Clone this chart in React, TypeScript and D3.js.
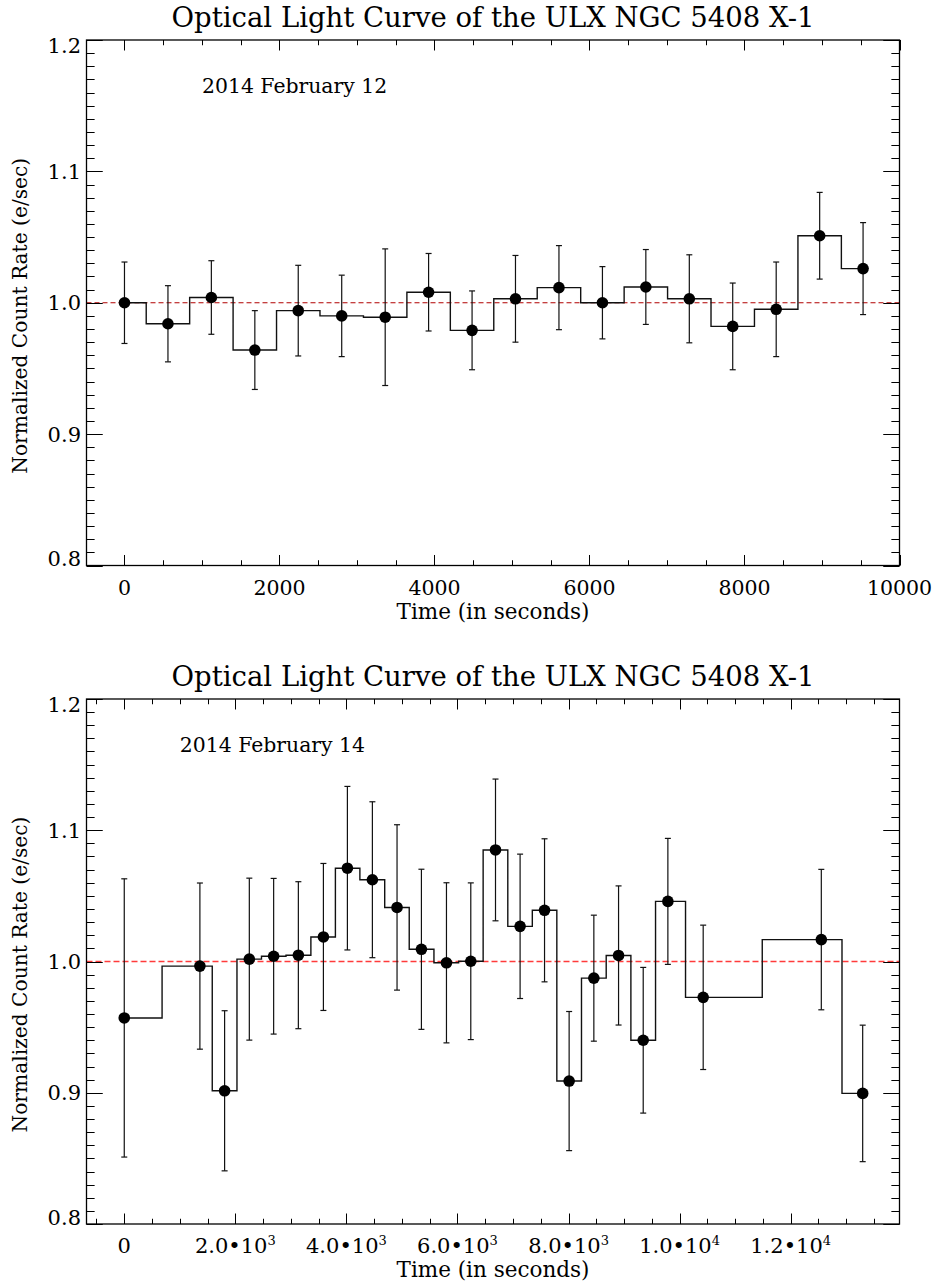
import React from "react";
import * as d3 from "d3";

// ---------- data ----------
const TITLE = "Optical Light Curve of the ULX NGC 5408 X-1";
const X_TITLE = "Time (in seconds)";
const Y_TITLE = "Normalized Count Rate (e/sec)";

const topDate = "2014 February 12";
const topTimes = [0, 561, 1121, 1682, 2242, 2803, 3364, 3924, 4485, 5045, 5606, 6167, 6727, 7288, 7848, 8409, 8970, 9530];
const topRates = [1.0, 0.984, 1.004, 0.964, 0.994, 0.99, 0.989, 1.008, 0.979, 1.003, 1.0115, 1.0, 1.012, 1.003, 0.982, 0.995, 1.051, 1.026];
const topErrors = [0.031, 0.029, 0.028, 0.03, 0.0345, 0.031, 0.052, 0.0295, 0.03, 0.033, 0.032, 0.0275, 0.0285, 0.0335, 0.033, 0.036, 0.033, 0.035];
const topXDomain = [-490, 10000];
const topXMajor = [0, 2000, 4000, 6000, 8000, 10000];
const topXLabels = ["0", "2000", "4000", "6000", "8000", "10000"];

const botDate = "2014 February 14";
const botTimes = [0, 1362, 1807, 2252, 2690, 3135, 3586, 4018, 4468, 4912, 5351, 5802, 6240, 6685, 7128, 7568, 8011, 8456, 8901, 9345, 9789, 10425, 12552, 13297];
const botRates = [0.957, 0.9965, 0.9015, 1.0018, 1.004, 1.0048, 1.0187, 1.0711, 1.0623, 1.0412, 1.0093, 0.999, 1.0002, 1.085, 1.0268, 1.039, 0.9089, 0.9873, 1.0046, 0.94, 1.0458, 0.9727, 1.0167, 0.8995];
const botErrors = [0.106, 0.0633, 0.061, 0.0617, 0.0593, 0.056, 0.056, 0.0623, 0.0594, 0.063, 0.061, 0.061, 0.0597, 0.054, 0.055, 0.0545, 0.053, 0.048, 0.053, 0.0555, 0.048, 0.055, 0.0535, 0.052];
const botXDomain = [-680, 13960];
const botXMajor = [0, 2000, 4000, 6000, 8000, 10000, 12000];
const botXLabels: [string, string][] = [["0", ""], ["2.0•10", "3"], ["4.0•10", "3"], ["6.0•10", "3"], ["8.0•10", "3"], ["1.0•10", "4"], ["1.2•10", "4"]];

const yDomain = [0.8, 1.2];
const yMajor = [0.8, 0.9, 1.0, 1.1, 1.2];
const yLabels = ["0.8", "0.9", "1.0", "1.1", "1.2"];
const xMinorStep = 500;
const yMinorStep = 0.01;
const refLevel = 1.0;
const labelTime = 1000;
const labelRate = 1.16;

const FONT = "'DejaVu Serif', serif";

type PanelProps = {
  top: number;
  bottom: number;
  times: number[];
  rates: number[];
  errors: number[];
  xDomain: number[];
  xMajor: number[];
  xLabels: (string | [string, string])[];
  date: string;
  refColor: string;
  refWidth: number;
  refDash: string;
};

const LEFT = 86.5;
const RIGHT = 899.5;

function Panel(p: PanelProps) {
  const x = d3.scaleLinear().domain(p.xDomain).range([LEFT, RIGHT]);
  const y = d3.scaleLinear().domain(yDomain).range([p.bottom, p.top]);
  const pts = p.times.map((t, i) => [t, p.rates[i]] as [number, number]);
  const step = d3
    .line<[number, number]>()
    .x((d) => x(d[0]))
    .y((d) => y(d[1]))
    .curve(d3.curveStep)(pts) as string;

  const xMinor = d3.range(Math.ceil(p.xDomain[0] / xMinorStep) * xMinorStep, p.xDomain[1] + 1, xMinorStep);
  const yMinor = d3.range(0, 41).map((k) => 0.8 + k * yMinorStep);
  const h = p.bottom - p.top;
  const w = RIGHT - LEFT;
  const xMajLen = 0.02 * h;
  const yMajLen = 0.02 * w;
  const tickStroke = { stroke: "#000", strokeWidth: 1 };

  return (
    <g>
      {/* title */}
      <text x={(LEFT + RIGHT) / 2} y={p.top - 13} textAnchor="middle" fontFamily={FONT} fontSize={27.5} fill="#000">
        {TITLE}
      </text>
      {/* reference line */}
      <line x1={LEFT} x2={RIGHT} y1={y(refLevel)} y2={y(refLevel)} stroke={p.refColor} strokeWidth={p.refWidth} strokeDasharray={p.refDash} />
      {/* x ticks */}
      {xMinor.map((v, i) => {
        const major = p.xMajor.some((m) => Math.abs(m - v) < 1e-6);
        const len = major ? xMajLen : xMajLen / 2;
        const xx = Math.round(x(v)) + 0.5;
        return (
          <g key={"xt" + i}>
            <line x1={xx} x2={xx} y1={p.bottom} y2={p.bottom - len} {...tickStroke} />
            <line x1={xx} x2={xx} y1={p.top} y2={p.top + len} {...tickStroke} />
          </g>
        );
      })}
      {/* y ticks */}
      {yMinor.map((v, i) => {
        const major = i % 10 === 0;
        const len = major ? yMajLen : yMajLen / 2;
        const yy = Math.round(y(v)) + 0.5;
        return (
          <g key={"yt" + i}>
            <line x1={LEFT} x2={LEFT + len} y1={yy} y2={yy} {...tickStroke} />
            <line x1={RIGHT} x2={RIGHT - len} y1={yy} y2={yy} {...tickStroke} />
          </g>
        );
      })}
      {/* y labels */}
      {yMajor.map((v, i) => {
        const yy = Math.min(Math.max(y(v), p.top + 5), p.bottom - 7);
        return (
          <text key={"yl" + i} x={81} y={yy} dy="0.36em" textAnchor="end" fontFamily={FONT} fontSize={21} fill="#000">
            {yLabels[i]}
          </text>
        );
      })}
      {/* x labels */}
      {p.xMajor.map((v, i) => {
        const lab = p.xLabels[i];
        if (typeof lab === "string") {
          return (
            <text key={"xl" + i} x={x(v)} y={p.bottom + 29} textAnchor="middle" fontFamily={FONT} fontSize={20.5} fill="#000">
              {lab}
            </text>
          );
        }
        return (
          <text key={"xl" + i} x={x(v)} y={p.bottom + 29} textAnchor="middle" fontFamily={FONT} fontSize={21} fill="#000">
            {lab[0]}
            {lab[1] ? (
              <tspan fontSize={13} dy={-8}>
                {lab[1]}
              </tspan>
            ) : null}
          </text>
        );
      })}
      {/* axis titles */}
      <text x={(LEFT + RIGHT) / 2} y={p.bottom + 53} textAnchor="middle" fontFamily={FONT} fontSize={21.5} fill="#000">
        {X_TITLE}
      </text>
      <text
        transform={`translate(27,${(p.top + p.bottom) / 2 + 13}) rotate(-90)`}
        textAnchor="middle"
        fontFamily={FONT}
        fontSize={20.2}
        fill="#000"
      >
        {Y_TITLE}
      </text>
      {/* date label */}
      <text x={x(labelTime)} y={y(labelRate)} fontFamily={FONT} fontSize={20.4} fill="#000">
        {p.date}
      </text>
      {/* step curve */}
      <path d={step} fill="none" stroke="#111" strokeWidth={1.4} />
      {/* error bars */}
      {p.times.map((t, i) => {
        const xx = x(t);
        const y1 = y(p.rates[i] + p.errors[i]);
        const y0 = y(p.rates[i] - p.errors[i]);
        return (
          <g key={"eb" + i} stroke="#111" strokeWidth={1.2}>
            <line x1={xx} x2={xx} y1={y0} y2={y1} />
            <line x1={xx - 3} x2={xx + 3} y1={y1} y2={y1} />
            <line x1={xx - 3} x2={xx + 3} y1={y0} y2={y0} />
          </g>
        );
      })}
      {/* points */}
      {p.times.map((t, i) => (
        <circle key={"pt" + i} cx={x(t)} cy={y(p.rates[i])} r={5.8} fill="#000" />
      ))}
      {/* frame */}
      <rect x={LEFT} y={p.top} width={w} height={h} fill="none" stroke="#000" strokeWidth={1.3} />
    </g>
  );
}

export default function App() {
  return (
    <svg
      width={937}
      height={1288}
      viewBox="0 0 937 1288"
      style={{ position: "absolute", left: 0, top: 0, background: "#fff" }}
    >
      <rect width={937} height={1288} fill="#fff" />
      <Panel
        top={40}
        bottom={565.5}
        times={topTimes}
        rates={topRates}
        errors={topErrors}
        xDomain={topXDomain}
        xMajor={topXMajor}
        xLabels={topXLabels}
        date={topDate}
        refColor="#b00000"
        refWidth={1}
        refDash="5 3"
      />
      <Panel
        top={699}
        bottom={1224}
        times={botTimes}
        rates={botRates}
        errors={botErrors}
        xDomain={botXDomain}
        xMajor={botXMajor}
        xLabels={botXLabels}
        date={botDate}
        refColor="#ff3b3b"
        refWidth={1.6}
        refDash="6 3"
      />
    </svg>
  );
}
